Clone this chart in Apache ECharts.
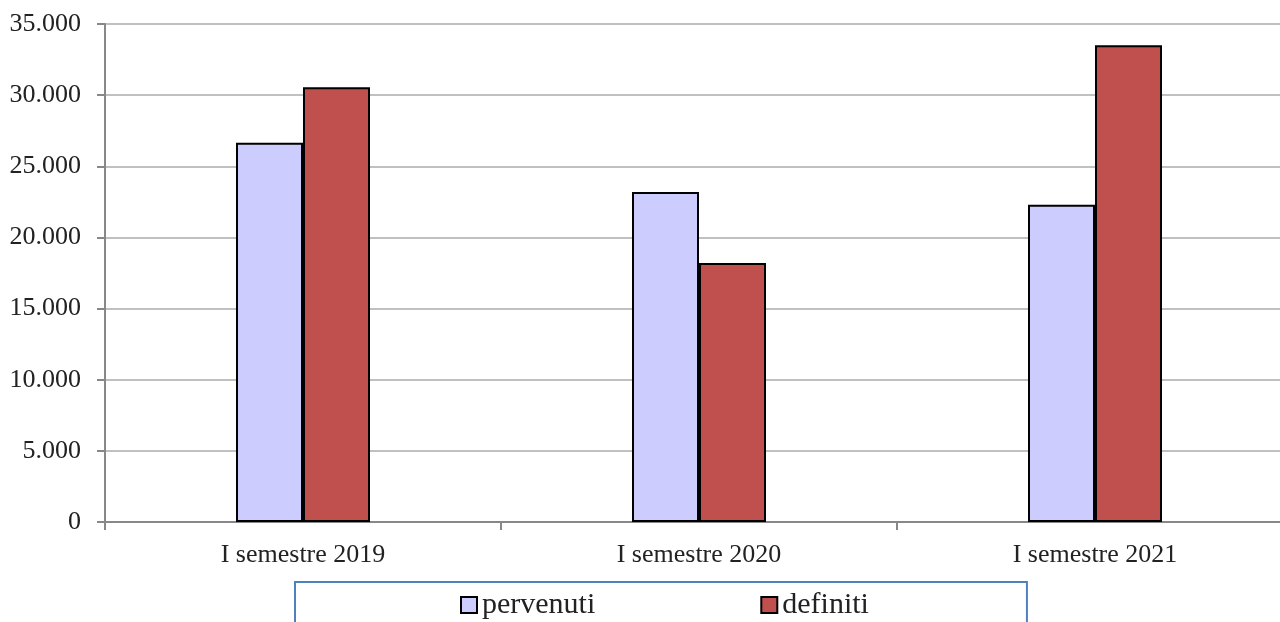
<!DOCTYPE html>
<html><head><meta charset="utf-8">
<script src="https://cdn.jsdelivr.net/npm/echarts@6/dist/echarts.min.js"></script>
<style>html,body{margin:0;padding:0;background:#fff}#c{width:1280px;height:622px}</style>
</head><body><div id="c"></div>
<script>
const categories = ['I semestre 2019', 'I semestre 2020', 'I semestre 2021'];
const pervenuti = [26650, 23200, 22300];
const definiti = [30550, 18200, 33500];
const seriesNames = ['pervenuti', 'definiti'];

const chart = echarts.init(document.getElementById('c'));
const font = '"Liberation Serif", "DejaVu Serif", serif';
chart.setOption({
  animation: false,
  grid: { left: 105, top: 24, width: 1188, height: 498, containLabel: false, outerBoundsMode: 'none' },
  legend: {
    left: 295, top: 582,
    padding: [8, 158, 30, 165],
    itemGap: 165,
    itemWidth: 16, itemHeight: 16,
    icon: 'rect',
    borderColor: '#4f81bd', borderWidth: 2,
    textStyle: { fontFamily: font, fontSize: 30, color: '#222' },
    data: seriesNames
  },
  xAxis: {
    type: 'category', data: categories,
    axisLine: { lineStyle: { color: '#888', width: 2 } },
    axisTick: { show: true, length: 8, lineStyle: { color: '#888', width: 2 } },
    axisLabel: { fontFamily: font, fontSize: 26, color: '#222', margin: 20 }
  },
  yAxis: {
    type: 'value', min: 0, max: 35000, interval: 5000,
    axisLine: { show: true, lineStyle: { color: '#888', width: 2 } },
    axisTick: { show: true, length: 8, lineStyle: { color: '#888', width: 2 } },
    splitLine: { lineStyle: { color: '#c0c0c0', width: 2 } },
    axisLabel: { fontFamily: font, fontSize: 26, color: '#222', margin: 24,
      formatter: v => v.toString().replace(/\B(?=(\d{3})+(?!\d))/g, '.') }
  },
  series: [
    { name: seriesNames[0], type: 'bar', data: pervenuti, barWidth: 67, barGap: '0%',
      itemStyle: { color: '#ccccff', borderColor: '#000', borderWidth: 2 } },
    { name: seriesNames[1], type: 'bar', data: definiti, barWidth: 67, barGap: '0%',
      itemStyle: { color: '#c0504d', borderColor: '#000', borderWidth: 2 } }
  ]
});
</script></body></html>
